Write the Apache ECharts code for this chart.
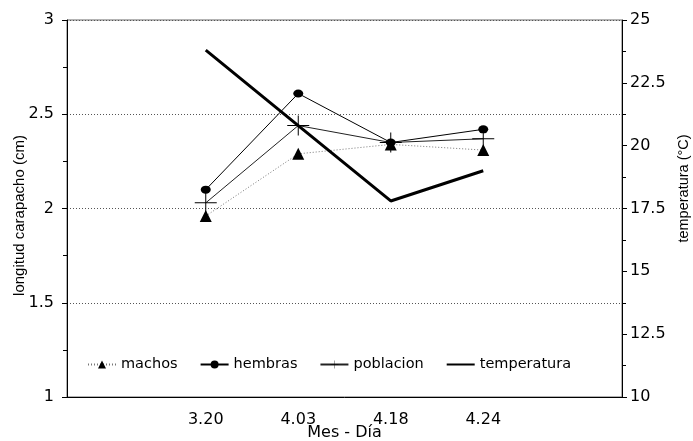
<!DOCTYPE html>
<html>
<head>
<meta charset="utf-8">
<script src="https://cdn.jsdelivr.net/npm/echarts@6/dist/echarts.min.js"></script>
<style>
  html, body { margin: 0; padding: 0; background: #fff; }
  #chart { width: 693px; height: 441px; }
</style>
</head>
<body>
<div id="chart"></div>
<script>
// categorias del eje x (los extremos van vacios)
var fechas = ['', '3.20', '4.03', '4.18', '4.24', ''];
// longitud carapacho (cm)
var machos = [null, 1.96, 2.29, 2.34, 2.31, null];
var hembras = [null, 2.10, 2.61, 2.35, 2.42, null];
var poblacion = [null, 2.03, 2.44, 2.35, 2.37, null];
// temperatura (°C)
var temperatura = [null, 23.8, 20.8, 17.8, 19.0, null];

var font = 'DejaVu Sans, Verdana, sans-serif';
var fontNombre = 'Liberation Sans, Arial, sans-serif';
var cruz = 'path://M0,9.5H22V10.5H0Z M10.5,0H11.5V20H10.5Z';

var chart = echarts.init(document.getElementById('chart'));

var option = {
  backgroundColor: '#fff',
  animation: false,
  textStyle: { fontFamily: font, color: '#000' },
  grid: {
    left: 67, right: 71, top: 20, bottom: 44,
    outerBoundsMode: 'none',
    containLabel: false,
    show: true, borderColor: '#666', borderWidth: 1
  },
  legend: {
    left: 82, top: 352,
    itemWidth: 28, itemHeight: 10, itemGap: 22,
    textStyle: { fontSize: 14.5, color: '#000', fontFamily: font },
    data: [
      { name: 'machos' },
      { name: 'hembras' },
      { name: 'poblacion' },
      { name: 'temperatura', itemStyle: { opacity: 0 } }
    ]
  },
  xAxis: {
    type: 'category',
    data: fechas,
    boundaryGap: true,
    name: 'Mes - Día',
    nameLocation: 'middle',
    nameGap: 28,
    nameMoveOverlap: false,
    nameTextStyle: { fontSize: 16, color: '#000', fontFamily: font },
    axisLine: { lineStyle: { color: '#000', width: 1 } },
    axisTick: { alignWithLabel: true, length: 6, lineStyle: { color: '#000' } },
    axisLabel: { fontSize: 16, color: '#000', margin: 15 },
    splitLine: { show: false }
  },
  yAxis: [
    {
      type: 'value',
      min: 1, max: 3, interval: 0.5,
      name: 'longitud carapacho (cm)',
      nameLocation: 'middle',
      nameGap: 40,
      nameMoveOverlap: false,
      nameTextStyle: { fontSize: 15, color: '#000', fontFamily: fontNombre, padding: [0, 14, 0, 0] },
      axisLine: { show: true, lineStyle: { color: '#000' } },
      axisTick: { show: true, length: 5, lineStyle: { color: '#000' } },
      minorTick: { show: true, splitNumber: 2, length: 4, lineStyle: { color: '#000' } },
      axisLabel: { fontSize: 16, color: '#000', margin: 13 },
      splitLine: { show: true, lineStyle: { color: '#555', type: [1, 2], width: 1 } }
    },
    {
      type: 'value',
      min: 10, max: 25, interval: 2.5,
      name: 'temperatura (°C)',
      nameLocation: 'middle',
      nameGap: 54,
      nameRotate: 90,
      nameTextStyle: { fontSize: 14.5, color: '#000', fontFamily: fontNombre, padding: [0, 0, 0, 40] },
      axisLine: { show: true, lineStyle: { color: '#000' } },
      axisTick: { show: true, length: 5, lineStyle: { color: '#000' } },
      minorTick: { show: true, splitNumber: 2, length: 4, lineStyle: { color: '#000' } },
      axisLabel: { fontSize: 16, color: '#000', margin: 8 },
      splitLine: { show: false }
    }
  ],
  series: [
    {
      name: 'machos', type: 'line', yAxisIndex: 0,
      data: machos,
      symbol: 'triangle', symbolSize: 12,
      itemStyle: { color: '#000' },
      lineStyle: { color: '#777', width: 1, type: [1, 2] }
    },
    {
      name: 'hembras', type: 'line', yAxisIndex: 0,
      data: hembras,
      symbol: 'circle', symbolSize: [10, 8],
      itemStyle: { color: '#000' },
      lineStyle: { color: '#000', width: 1 }
    },
    {
      name: 'poblacion', type: 'line', yAxisIndex: 0,
      data: poblacion,
      symbol: cruz, symbolSize: [22, 20],
      itemStyle: { color: '#000' },
      lineStyle: { color: '#222', width: 1 }
    },
    {
      name: 'temperatura', type: 'line', yAxisIndex: 1,
      data: temperatura,
      symbol: 'none',
      itemStyle: { color: '#000' },
      lineStyle: { color: '#000', width: 3 }
    }
  ]
};

chart.setOption(option);
</script>
</body>
</html>
